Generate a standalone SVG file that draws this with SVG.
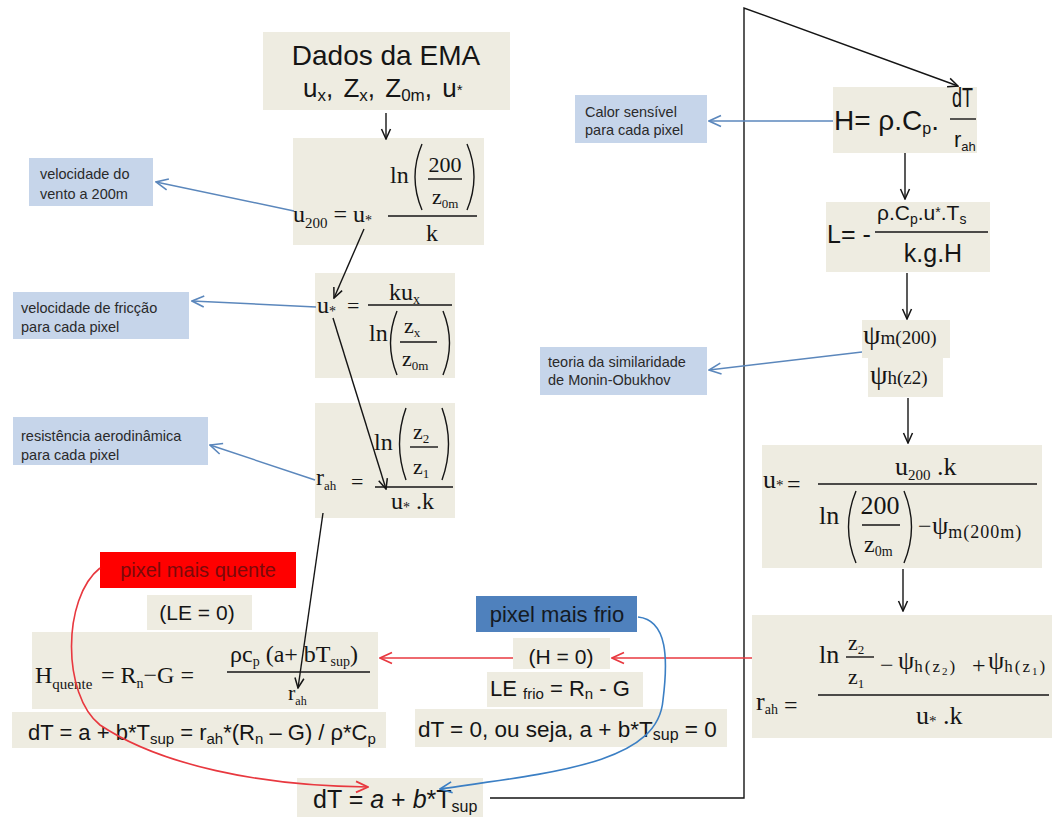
<svg xmlns="http://www.w3.org/2000/svg" width="1052" height="817" viewBox="0 0 1052 817">
<style>
.box{fill:#EEECE1}
.lbl{fill:#C6D5EA}
.f{font-family:"Liberation Serif",serif;fill:#151515}
.s{font-family:"Liberation Sans",sans-serif;fill:#151515}
.t{font-family:"Liberation Sans",sans-serif;fill:#2a2a2a;font-size:14.5px}
.ln{stroke:#151515;stroke-width:1.4;fill:none}
.blk{stroke:#151515;stroke-width:1.4;fill:none}
.ann{stroke:#5B87BC;stroke-width:1.5;fill:none}
.red{stroke:#E8383F;stroke-width:1.6;fill:none}
.blu{stroke:#3B7FC4;stroke-width:1.6;fill:none}
</style>
<defs>
<marker id="mk" viewBox="0 0 12 12" refX="11" refY="6" markerWidth="12" markerHeight="12" markerUnits="userSpaceOnUse" orient="auto"><path d="M1,1.5 L11,6 L1,10.5" fill="none" stroke="#151515" stroke-width="1.5"/></marker>
<marker id="ma" viewBox="0 0 14 14" refX="13" refY="7" markerWidth="14" markerHeight="14" markerUnits="userSpaceOnUse" orient="auto"><path d="M1,1.5 L13,7 L1,12.5" fill="none" stroke="#5B87BC" stroke-width="1.6"/></marker>
<marker id="mr" viewBox="0 0 14 14" refX="13" refY="7" markerWidth="14" markerHeight="14" markerUnits="userSpaceOnUse" orient="auto"><path d="M1,1.5 L13,7 L1,12.5" fill="none" stroke="#E8383F" stroke-width="1.7"/></marker>
<marker id="mb" viewBox="0 0 14 14" refX="13" refY="7" markerWidth="14" markerHeight="14" markerUnits="userSpaceOnUse" orient="auto"><path d="M1,1.5 L13,7 L1,12.5" fill="none" stroke="#3B7FC4" stroke-width="1.7"/></marker>
</defs>
<rect width="1052" height="817" fill="#ffffff"/>

<g id="dados">
<rect class="box" x="263" y="32" width="247" height="78"/>
<text class="s" x="386" y="65" font-size="28" text-anchor="middle">Dados da EMA</text>
<text class="s" x="303" y="97" font-size="26" word-spacing="3">u<tspan font-size="17" dy="4">x</tspan><tspan dy="-4">, Z</tspan><tspan font-size="17" dy="4">x</tspan><tspan dy="-4">, Z</tspan><tspan font-size="17" dy="4">0m</tspan><tspan dy="-4">,  u</tspan><tspan font-size="15" dy="-2">*</tspan></text>
</g>

<g id="u200">
<rect class="box" x="293" y="138" width="191" height="107"/>
<text class="f" x="293" y="222" font-size="24">u<tspan font-size="15" dy="6">200</tspan><tspan dy="-6"> = u</tspan><tspan font-size="14" dy="3">*</tspan></text>
<text class="f" x="390" y="183" font-size="24">ln</text>
<path class="ln" d="M422 144 Q408 177 422 210 M467 144 Q481 177 467 210"/>
<text class="f" x="445" y="172" font-size="22" text-anchor="middle">200</text>
<line class="ln" x1="428" y1="179" x2="462" y2="179"/>
<text class="f" x="432" y="204" font-size="22">z<tspan font-size="13" dy="4">0m</tspan></text>
<line class="ln" x1="388" y1="216" x2="477" y2="216"/>
<text class="f" x="432" y="241" font-size="24" text-anchor="middle">k</text>
</g>

<g id="lbl-vento">
<rect class="lbl" x="29" y="158" width="124" height="48"/>
<text class="t" x="40" y="179">velocidade do</text>
<text class="t" x="40" y="199">vento a 200m</text>
</g>

<g id="ustar">
<rect class="box" x="315" y="273" width="140" height="105"/>
<text class="f" x="317" y="313" font-size="24">u<tspan font-size="14" dy="3">*</tspan></text>
<text class="f" x="347" y="313" font-size="22">=</text>
<text class="f" x="389" y="300" font-size="24">ku<tspan font-size="14" dy="4">x</tspan></text>
<line class="ln" x1="368" y1="305" x2="452" y2="305"/>
<text class="f" x="369" y="341" font-size="24">ln</text>
<path class="ln" d="M397 311 Q384 343 397 375 M443 311 Q456 343 443 375"/>
<text class="f" x="404" y="333" font-size="22">z<tspan font-size="13" dy="4">x</tspan></text>
<line class="ln" x1="400" y1="342" x2="437" y2="342"/>
<text class="f" x="402" y="366" font-size="22">z<tspan font-size="13" dy="4">0m</tspan></text>
</g>

<g id="lbl-friccao">
<rect class="lbl" x="13" y="292" width="176" height="47"/>
<text class="t" x="21" y="313">velocidade de fricção</text>
<text class="t" x="21" y="332">para cada pixel</text>
</g>

<g id="rah">
<rect class="box" x="315" y="403" width="140" height="115"/>
<text class="f" x="316" y="485" font-size="24">r<tspan font-size="13" dy="5">ah</tspan></text>
<text class="f" x="351" y="489" font-size="22">=</text>
<text class="f" x="374" y="450" font-size="24">ln</text>
<path class="ln" d="M406 408 Q393 444 406 480 M442 408 Q455 444 442 480"/>
<text class="f" x="413" y="439" font-size="22">z<tspan font-size="13" dy="4">2</tspan></text>
<line class="ln" x1="410" y1="447" x2="438" y2="447"/>
<text class="f" x="413" y="474" font-size="22">z<tspan font-size="13" dy="4">1</tspan></text>
<line class="ln" x1="375" y1="487" x2="453" y2="487"/>
<text class="f" x="391" y="509" font-size="24">u<tspan font-size="14" dy="3">*</tspan><tspan dy="-3"> .k</tspan></text>
</g>

<g id="lbl-resist">
<rect class="lbl" x="13" y="417" width="195" height="48"/>
<text class="t" x="21" y="441">resistência aerodinâmica</text>
<text class="t" x="21" y="460">para cada pixel</text>
</g>

<g id="quente">
<rect x="100" y="552" width="196" height="36" fill="#FF0000"/>
<text class="s" x="198" y="577" font-size="20" text-anchor="middle" style="fill:#7a0a0a">pixel mais quente</text>
</g>

<g id="le0">
<rect class="box" x="147" y="595" width="105" height="35"/>
<text class="s" x="197" y="620" font-size="21" text-anchor="middle">(LE = 0)</text>
</g>

<g id="hquente">
<rect class="box" x="32" y="632" width="346" height="77"/>
<text class="f" x="35" y="683" font-size="24">H<tspan font-size="15" dy="6">quente</tspan><tspan dy="-6" x="95"> = R</tspan><tspan font-size="14" dy="5">n</tspan><tspan dy="-5">−G =</tspan></text>
<text class="f" x="230" y="662" font-size="24">ρc<tspan font-size="14" dy="4">p</tspan><tspan dy="-4"> (a+ bT</tspan><tspan font-size="14" dy="4">sup</tspan><tspan dy="-4">)</tspan></text>
<line class="ln" x1="227" y1="672" x2="370" y2="672"/>
<text class="f" x="288" y="700" font-size="22">r<tspan font-size="12" dy="5">ah</tspan></text>
</g>

<g id="dtquente">
<rect class="box" x="12" y="712" width="374" height="36"/>
<text class="s" x="28" y="740" font-size="22">dT = a + b*T<tspan font-size="15" dy="4">sup</tspan><tspan dy="-4"> = r</tspan><tspan font-size="15" dy="4">ah</tspan><tspan dy="-4">*(R</tspan><tspan font-size="15" dy="4">n</tspan><tspan dy="-4"> – G) / ρ*C</tspan><tspan font-size="15" dy="4">p</tspan></text>
</g>

<g id="dtfinal">
<rect class="box" x="297" y="778" width="186" height="39"/>
<text class="s" x="313" y="808" font-size="25">dT = <tspan font-style="italic">a</tspan> + <tspan font-style="italic">b</tspan>*T<tspan font-size="16" dy="4">sup</tspan></text>
</g>

<g id="frio">
<rect x="476" y="596" width="161" height="36" fill="#4F81BD"/>
<text class="s" x="557" y="622" font-size="22" text-anchor="middle" style="fill:#141a24">pixel mais frio</text>
</g>

<g id="h0">
<rect class="box" x="513" y="638" width="97" height="31"/>
<text class="s" x="561" y="664" font-size="21" text-anchor="middle">(H = 0)</text>
</g>

<g id="lefrio">
<rect class="box" x="487" y="672" width="156" height="35"/>
<text class="s" x="490" y="696" font-size="22">LE <tspan font-size="15" dy="3">frio</tspan><tspan dy="-3"> = R</tspan><tspan font-size="15" dy="3">n</tspan><tspan dy="-3"> - G</tspan></text>
</g>

<g id="dtfrio">
<rect class="box" x="415" y="709" width="312" height="38"/>
<text class="s" x="418" y="737" font-size="22.5">dT = 0, ou seja, a + b*T<tspan font-size="16" dy="3">sup</tspan><tspan dy="-3"> = 0</tspan></text>
</g>

<g id="H">
<rect class="box" x="833" y="87" width="144" height="66"/>
<text class="s" x="834" y="130" font-size="28">H= ρ.C<tspan font-size="16" dy="4">p</tspan><tspan dy="-4">.</tspan></text>
<text class="s" x="952" y="107" font-size="27" textLength="21" lengthAdjust="spacingAndGlyphs">dT</text>
<line class="ln" x1="950" y1="119" x2="976" y2="119"/>
<text class="s" x="954" y="147" font-size="22">r<tspan font-size="13" dy="4">ah</tspan></text>
</g>

<g id="lbl-calor">
<rect class="lbl" x="575" y="95" width="132" height="48"/>
<text class="t" x="585" y="117">Calor sensível</text>
<text class="t" x="585" y="135">para cada pixel</text>
</g>

<g id="L">
<rect class="box" x="826" y="202" width="164" height="70"/>
<text class="s" x="827" y="243" font-size="25">L= -</text>
<text class="s" x="877" y="220" font-size="21">ρ.C<tspan font-size="14" dy="4">p</tspan><tspan dy="-4">.u</tspan><tspan font-size="14" dy="-3">*</tspan><tspan dy="3">.T</tspan><tspan font-size="14" dy="4">s</tspan></text>
<line class="ln" x1="875" y1="232" x2="988" y2="232"/>
<text class="s" x="933" y="262" font-size="25" text-anchor="middle">k.g.H</text>
</g>

<g id="psi">
<rect class="box" x="862" y="320" width="88" height="38"/>
<rect class="box" x="868" y="358" width="75" height="39"/>
<text class="f" x="863" y="344" font-size="28">ψ<tspan font-size="19">m(200)</tspan></text>
<text class="f" x="870" y="384" font-size="28">ψ<tspan font-size="19">h(z2)</tspan></text>
</g>

<g id="lbl-teoria">
<rect class="lbl" x="540" y="347" width="167" height="48"/>
<text class="t" x="548" y="367">teoria da similaridade</text>
<text class="t" x="548" y="385">de Monin-Obukhov</text>
</g>

<g id="ustar2">
<rect class="box" x="762" y="445" width="280" height="123"/>
<text class="f" x="763" y="488" font-size="26">u<tspan font-size="15" dy="2">*</tspan></text>
<text class="f" x="787" y="492" font-size="24">=</text>
<text class="f" x="895" y="475" font-size="26">u<tspan font-size="15" dy="5">200</tspan><tspan dy="-5"> .k</tspan></text>
<line class="ln" x1="818" y1="484" x2="1037" y2="484"/>
<text class="f" x="819" y="524" font-size="26">ln</text>
<path class="ln" d="M856 491 Q841 527 856 563 M904 491 Q919 527 904 563"/>
<text class="f" x="880" y="514" font-size="26" text-anchor="middle">200</text>
<line class="ln" x1="862" y1="525" x2="900" y2="525"/>
<text class="f" x="864" y="552" font-size="24">z<tspan font-size="14" dy="4">0m</tspan></text>
<text class="f" x="918" y="534" font-size="24">−</text>
<text class="f" x="932" y="534" font-size="26">ψ<tspan font-size="18" dy="4" letter-spacing="1">m(200m)</tspan></text>
</g>

<g id="rah2">
<rect class="box" x="752" y="615" width="300" height="123"/>
<text class="f" x="756" y="710" font-size="26">r<tspan font-size="14" dy="4">ah</tspan></text>
<text class="f" x="784" y="713" font-size="24">=</text>
<text class="f" x="819" y="663" font-size="26">ln</text>
<text class="f" x="848" y="650" font-size="22">z<tspan font-size="13" dy="4">2</tspan></text>
<line class="ln" x1="846" y1="657" x2="874" y2="657"/>
<text class="f" x="848" y="684" font-size="22">z<tspan font-size="13" dy="4">1</tspan></text>
<text class="f" x="880" y="673" font-size="24">−</text>
<text class="f" x="898" y="669" font-size="26">ψ<tspan font-size="17" dy="3" letter-spacing="2">h(z</tspan><tspan font-size="11" dy="3" letter-spacing="2">2</tspan><tspan font-size="17" dy="-3">)</tspan></text>
<text class="f" x="972" y="673" font-size="24">+</text>
<text class="f" x="988" y="669" font-size="26">ψ<tspan font-size="17" dy="3" letter-spacing="2">h(z</tspan><tspan font-size="11" dy="3" letter-spacing="2">1</tspan><tspan font-size="17" dy="-3">)</tspan></text>
<line class="ln" x1="818" y1="695" x2="1049" y2="695"/>
<text class="f" x="916" y="724" font-size="26">u<tspan font-size="15" dy="2">*</tspan><tspan dy="-2"> .k</tspan></text>
</g>

<g id="connectors">
<line class="blk" x1="386" y1="113" x2="386" y2="139" marker-end="url(#mk)"/>
<line class="blk" x1="364" y1="229" x2="334" y2="298" marker-end="url(#mk)"/>
<line class="blk" x1="333" y1="318" x2="386" y2="489" marker-end="url(#mk)"/>
<line class="blk" x1="323" y1="513" x2="298" y2="688" marker-end="url(#mk)"/>
<line class="blk" x1="905" y1="153" x2="905" y2="199" marker-end="url(#mk)"/>
<line class="blk" x1="907" y1="273" x2="907" y2="319" marker-end="url(#mk)"/>
<line class="blk" x1="908" y1="398" x2="908" y2="443" marker-end="url(#mk)"/>
<line class="blk" x1="903" y1="569" x2="903" y2="611" marker-end="url(#mk)"/>
<polyline class="blk" points="490,798 744,798 744,8 958,86" marker-end="url(#mk)"/>

<line class="ann" x1="294" y1="211" x2="156" y2="182" marker-end="url(#ma)"/>
<line class="ann" x1="316" y1="307" x2="192" y2="301" marker-end="url(#ma)"/>
<line class="ann" x1="315" y1="480" x2="210" y2="445" marker-end="url(#ma)"/>
<line class="ann" x1="833" y1="121" x2="709" y2="121" marker-end="url(#ma)"/>
<line class="ann" x1="862" y1="352" x2="709" y2="370" marker-end="url(#ma)"/>

<line class="red" x1="752" y1="658" x2="612" y2="658" marker-end="url(#mr)"/>
<line class="red" x1="513" y1="658" x2="380" y2="658" marker-end="url(#mr)"/>
<path class="red" d="M100 568 C62 598 62 695 100 725 C160 765 260 786 368 787" marker-end="url(#mr)"/>
<path class="blu" d="M638 617 C668 620 668 660 663 700 C658 762 560 772 440 789" marker-end="url(#mb)"/>
</g>
</svg>
